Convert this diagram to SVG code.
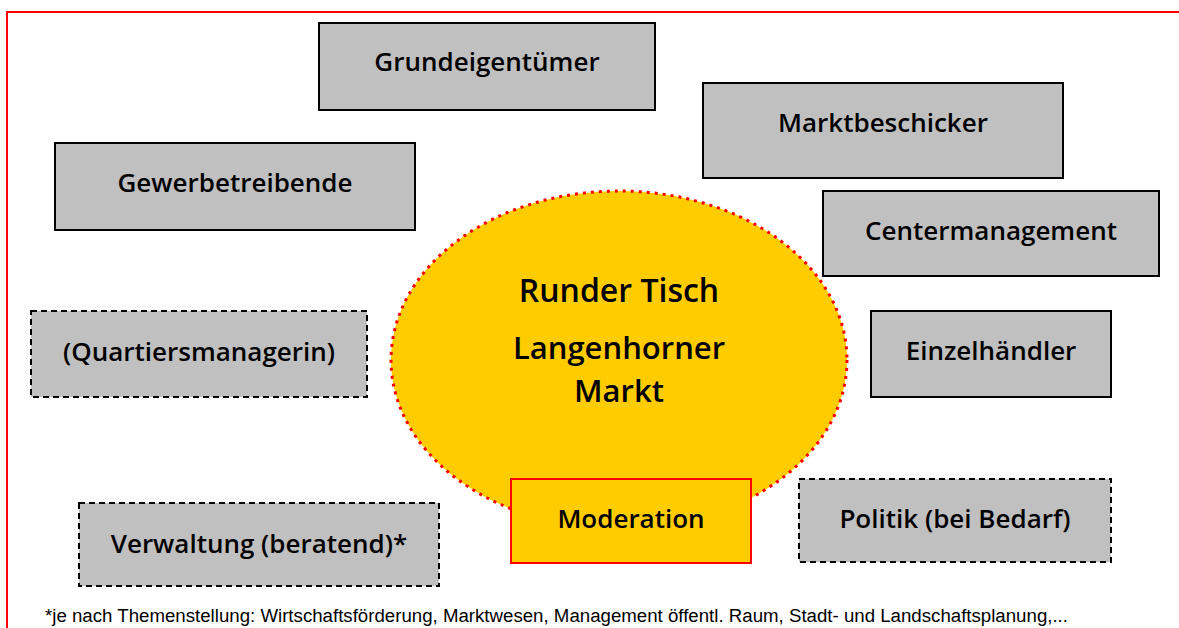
<svg xmlns="http://www.w3.org/2000/svg" width="1179" height="628" viewBox="0 0 1179 628">
  <defs>
    <style>
      .box { fill: #C0C0C0; stroke: #000000; stroke-width: 2; }
      .dashed { stroke-dasharray: 6 4; }
      .lbl { font-family: "Open Sans", "Noto Sans", "DejaVu Sans", sans-serif; font-weight: 600; font-size: 26px; fill: #000000; text-anchor: middle; }
      .big { font-size: 32px; }
      .big2 { font-size: 31px; }
      .note { font-family: "Liberation Sans", Arial, sans-serif; font-size: 18px; fill: #000000; }
    </style>
  </defs>
  <rect width="1179" height="628" fill="#FFFFFF"/>
  <!-- page frame: only the top and left edges are visible -->
  <path d="M7 640 V12 H1190" fill="none" stroke="#FF0000" stroke-width="2"/>

  <g id="runder-tisch">
    <ellipse cx="619" cy="360" rx="228" ry="169" fill="#FFCC00" stroke="#FF0000" stroke-width="3" stroke-dasharray="3 5"/>
    <text class="lbl big" x="619" y="302">Runder Tisch</text>
    <text class="lbl big2" x="619" y="359"><tspan x="619">Langenhorner</tspan><tspan x="619" dy="43">Markt</tspan></text>
  </g>

  <g id="grundeigentuemer">
    <rect class="box" x="319" y="23" width="336" height="87"/>
    <text class="lbl" x="487" y="71">Grundeigentümer</text>
  </g>
  <g id="marktbeschicker">
    <rect class="box" x="703" y="83" width="360" height="95"/>
    <text class="lbl" x="883" y="132">Marktbeschicker</text>
  </g>
  <g id="gewerbetreibende">
    <rect class="box" x="55" y="143" width="360" height="87"/>
    <text class="lbl" x="235" y="192">Gewerbetreibende</text>
  </g>
  <g id="centermanagement">
    <rect class="box" x="823" y="191" width="336" height="85"/>
    <text class="lbl" x="991" y="240">Centermanagement</text>
  </g>
  <g id="quartiersmanagerin">
    <rect class="box dashed" x="31" y="311" width="336" height="86"/>
    <text class="lbl" x="199" y="361">(Quartiersmanagerin)</text>
  </g>
  <g id="einzelhaendler">
    <rect class="box" x="871" y="311" width="240" height="86"/>
    <text class="lbl" x="991" y="360">Einzelhändler</text>
  </g>
  <g id="verwaltung">
    <rect class="box dashed" x="79" y="503" width="360" height="83"/>
    <text class="lbl" x="259" y="553">Verwaltung (beratend)*</text>
  </g>
  <g id="moderation">
    <rect x="511" y="479" width="240" height="84" fill="#FFCC00" stroke="#FF0000" stroke-width="2"/>
    <text class="lbl" x="631" y="528">Moderation</text>
  </g>
  <g id="politik">
    <rect class="box dashed" x="799" y="479" width="312" height="83"/>
    <text class="lbl" x="955" y="528">Politik (bei Bedarf)</text>
  </g>

  <g id="connectors"/>

  <text class="note" x="45" y="622" textLength="1023" lengthAdjust="spacingAndGlyphs">*je nach Themenstellung: Wirtschaftsförderung, Marktwesen, Management öffentl. Raum, Stadt- und Landschaftsplanung,...</text>
</svg>
